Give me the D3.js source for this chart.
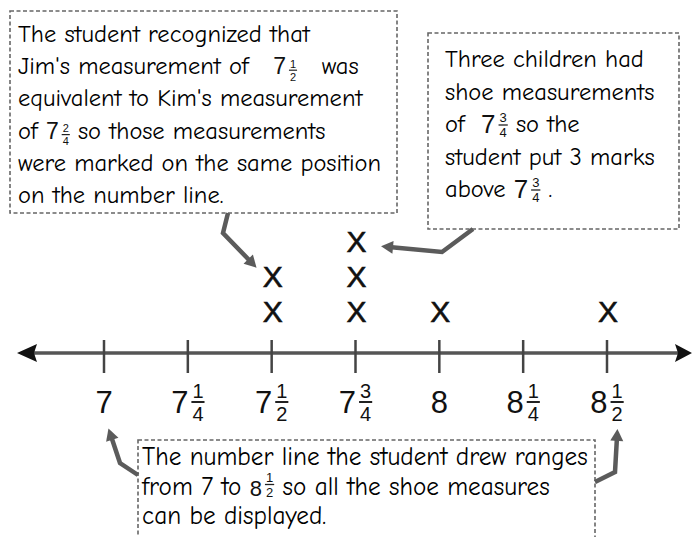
<!DOCTYPE html>
<html>
<head>
<meta charset="utf-8">
<script src="https://cdn.jsdelivr.net/npm/d3@7"></script>
<style>
  body { margin: 0; background: #fff; }
  svg { display: block; }
  .note { font-family: "Comic Sans MS", "Comic Neue", "Open Sans", sans-serif; fill: #000; white-space: pre; }
  .num { font-family: "Liberation Sans", Arial, sans-serif; fill: #111; white-space: pre; }
</style>
</head>
<body>
<svg id="chart" width="696" height="537"></svg>
<script>

// tick values on the number line and their mixed-number labels
var ticks = [7, 7.25, 7.5, 7.75, 8, 8.25, 8.5];
var tickWhole = ["7", "7", "7", "7", "8", "8", "8"];
var tickNum = ["", "1", "1", "3", "", "1", "1"];
var tickDen = ["", "4", "2", "4", "", "4", "2"];

// shoe measurements, one X each
var shoeSizes = [7.5, 7.5, 7.75, 7.75, 7.75, 8, 8.5];

// callout texts: strings, or {w, n, d} for a mixed number
var noteLeft = [
  ["The student recognized that"],
  ["Jim's measurement of   ", {w: "7", n: "1", d: "2"}, "   was"],
  ["equivalent to Kim's measurement"],
  ["of ", {w: "7", n: "2", d: "4"}, " so those measurements"],
  ["were marked on the same position"],
  ["on the number line."]
];
var noteRight = [
  ["Three children had"],
  ["shoe measurements"],
  ["of  ", {w: "7", n: "3", d: "4"}, " so the"],
  ["student put 3 marks"],
  ["above ", {w: "7", n: "3", d: "4"}, " ."]
];
var noteBottom = [
  ["The number line the student drew ranges"],
  ["from 7 to ", {w: "8", n: "1", d: "2"}, " so all the shoe measures"],
  ["can be displayed."]
];

var svg = d3.select("#chart");

var xScale = d3.scaleLinear()
    .domain([7, 8.5])
    .range([104, 607]);

// stack height -> baseline of the X
var yStack = d3.scaleLinear()
    .domain([0, 1])
    .range([322, 287]);

var lineY = 353;

// markers
var defs = svg.append("defs");
defs.append("marker")
    .attr("id", "grayHead")
    .attr("markerUnits", "userSpaceOnUse")
    .attr("viewBox", "-2 -8 16 16")
    .attr("markerWidth", 16)
    .attr("markerHeight", 16)
    .attr("refX", 4)
    .attr("refY", 0)
    .attr("orient", "auto")
  .append("path")
    .attr("d", "M0,-6.5 L12,0 L0,6.5 Z")
    .attr("fill", "#5b5b5b");

// number line
var lx0 = xScale(7) - 87, lx1 = xScale(8.5) + 85;
svg.append("line")
    .attr("x1", lx0 + 8).attr("x2", lx1 - 8)
    .attr("y1", lineY).attr("y2", lineY)
    .attr("stroke", "#555")
    .attr("stroke-width", 3.5);

svg.append("path")
    .attr("d", "M" + lx0 + "," + lineY + " L" + (lx0 + 20) + "," + (lineY - 9) + " L" + (lx0 + 17) + "," + lineY + " L" + (lx0 + 20) + "," + (lineY + 9) + " Z")
    .attr("fill", "#111");
svg.append("path")
    .attr("d", "M" + lx1 + "," + lineY + " L" + (lx1 - 17) + "," + (lineY - 9) + " L" + (lx1 - 14) + "," + lineY + " L" + (lx1 - 17) + "," + (lineY + 9) + " Z")
    .attr("fill", "#111");

svg.selectAll(".tick")
    .data(ticks)
  .enter().append("line")
    .attr("class", "tick")
    .attr("x1", function(d) { return xScale(d); })
    .attr("x2", function(d) { return xScale(d); })
    .attr("y1", lineY - 13)
    .attr("y2", lineY + 20)
    .attr("stroke", "#444")
    .attr("stroke-width", 2.5);

// mixed number at x (left edge), returns width
function mixed(g, x, base, whole, num, den, wSize, fSize, raise) {
    var t = g.append("text")
        .attr("class", "num")
        .attr("x", x).attr("y", base)
        .attr("font-size", wSize)
        .text(whole);
    var w = t.node().getComputedTextLength();
    if (!num) return w;
    var barY = base - raise;
    var nt = g.append("text").attr("class", "num")
        .attr("font-size", fSize).attr("text-anchor", "middle")
        .attr("y", barY - fSize * 0.22).text(num);
    var dt = g.append("text").attr("class", "num")
        .attr("font-size", fSize).attr("text-anchor", "middle")
        .attr("y", barY + fSize * 0.22 + fSize * 0.72).text(den);
    var fw = Math.max(nt.node().getComputedTextLength(), dt.node().getComputedTextLength()) + 2;
    var cx = x + w + 3 + fw / 2;
    nt.attr("x", cx);
    dt.attr("x", cx);
    g.append("line")
        .attr("x1", cx - fw / 2).attr("x2", cx + fw / 2)
        .attr("y1", barY).attr("y2", barY)
        .attr("stroke", "#222")
        .attr("stroke-width", Math.max(1.2, fSize / 10));
    return w + 3 + fw;
}

// tick labels, centred on each tick
svg.selectAll(".tlabel")
    .data(ticks)
  .enter().append("g")
    .attr("class", "tlabel")
    .each(function(d, i) {
        var g = d3.select(this);
        var w = mixed(g, 0, 413, tickWhole[i], tickNum[i], tickDen[i], 31, 20, 11);
        g.attr("transform", "translate(" + (xScale(d) - w / 2) + ",0)");
    });

// X marks stacked above each value
var seen = {};
var marks = shoeSizes.map(function(v) {
    seen[v] = (seen[v] || 0);
    return {v: v, k: seen[v]++};
});

svg.selectAll(".mark")
    .data(marks)
  .enter().append("text")
    .attr("class", "num mark")
    .attr("x", function(d) { return xScale(d.v) + 1; })
    .attr("y", function(d) { return yStack(d.k); })
    .attr("text-anchor", "middle")
    .attr("font-size", 30)
    .attr("stroke", "#111")
    .attr("stroke-width", 0.6)
    .text("X");

// callout boxes
function note(lines, box) {
    var g = svg.append("g");
    g.append("rect")
        .attr("x", box.x).attr("y", box.y)
        .attr("width", box.w).attr("height", box.h)
        .attr("fill", "#fff")
        .attr("stroke", "#666")
        .attr("stroke-width", 1.6)
        .attr("stroke-dasharray", "4,2.5");
    lines.forEach(function(parts, i) {
        var y = box.base + i * box.lh;
        var cx = box.tx;
        parts.forEach(function(p) {
            if (typeof p === "string") {
                var t = g.append("text")
                    .attr("class", "note")
                    .attr("xml:space", "preserve")
                    .attr("x", cx).attr("y", y)
                    .attr("font-size", box.size)
                    .text(p);
                cx += t.node().getComputedTextLength();
            } else {
                cx += mixed(g, cx, y + box.shift, p.w, p.n, p.d, box.wSize, box.fSize, box.raise);
            }
        });
    });
}

note(noteLeft, {x: 10, y: 11, w: 387, h: 202, tx: 18, base: 42, lh: 32.2, size: 24.5,
                wSize: 23, fSize: 11, raise: 4, shift: 0});
note(noteRight, {x: 428, y: 33, w: 251, h: 196, tx: 445, base: 67, lh: 32.5, size: 24.5,
                 wSize: 26, fSize: 13, raise: 8, shift: 1});
note(noteBottom, {x: 138, y: 440, w: 457, h: 120, tx: 142, base: 465, lh: 29.5, size: 25.2,
                  wSize: 22, fSize: 13, raise: 11, shift: 1});

// gray arrows from the callouts
var arrows = [
    [[228, 213], [223, 233], [251, 262]],
    [[473, 229], [442, 252], [389, 247]],
    [[138, 475], [120, 463], [111, 436]],
    [[595, 482], [615, 472], [617, 437]]
];

svg.selectAll(".arrow")
    .data(arrows)
  .enter().append("path")
    .attr("class", "arrow")
    .attr("d", d3.line())
    .attr("fill", "none")
    .attr("stroke", "#5b5b5b")
    .attr("stroke-width", 4.5)
    .attr("stroke-linejoin", "miter")
    .attr("marker-end", "url(#grayHead)");

</script>
</body>
</html>
